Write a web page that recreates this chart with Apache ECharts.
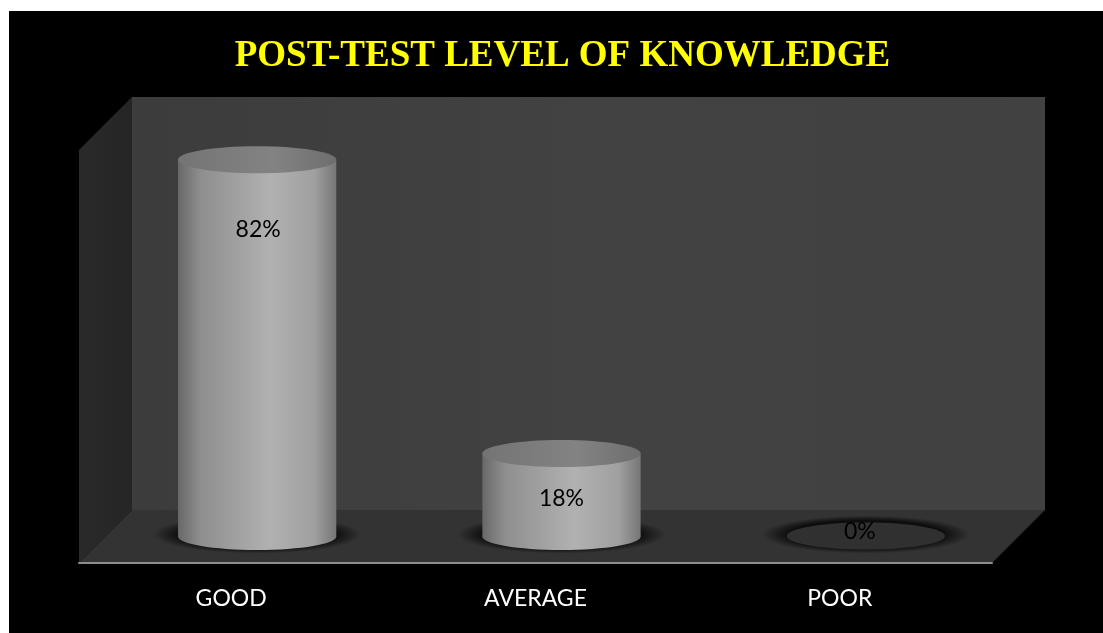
<!DOCTYPE html>
<html lang="en">
<head>
	<meta charset="UTF-8">
	<title>Post-test level of knowledge</title>
	<script src="https://cdn.jsdelivr.net/npm/echarts@6/dist/echarts.min.js"></script>
	<style>
		html, body { margin: 0; padding: 0; background: #fff; overflow: hidden; }
		#main { position: absolute; left: 9px; top: 11px; width: 1094px; height: 622px; }
	</style>
</head>
<body>
	<div id="main"></div>
	<script type="text/javascript">
		var chartTitle = 'POST-TEST LEVEL OF KNOWLEDGE';
		var categories = ['GOOD', 'AVERAGE', 'POOR'];
		var percentValues = [82, 18, 0];

		// fake 3d box: how far the back wall sits from the front plane
		var DEPTH = 53;
		var labelDrop = [70, 45.5, -4.5];
		var labelShift = [1, 0, -6];

		var myChart = echarts.init(document.getElementById('main'));

		function hGrad(stops) {
			return new echarts.graphic.LinearGradient(0, 0, 1, 0, stops);
		}

		function renderFrame(params) {
			var c = params.coordSys;
			var l = c.x, r = c.x + c.width, t = c.y, b = c.y + c.height;
			return {
				type: 'group',
				children: [
					{ type: 'rect', shape: { x: l + DEPTH, y: t - DEPTH, width: c.width, height: c.height },
						style: { fill: hGrad([{ offset: 0, color: '#3c3c3c' }, { offset: 0.5, color: '#424242' }, { offset: 1, color: '#414141' }]) } },
					{ type: 'polygon', shape: { points: [[l, t], [l + DEPTH, t - DEPTH], [l + DEPTH, b - DEPTH], [l, b]] },
						style: { fill: hGrad([{ offset: 0, color: '#2a2a2a' }, { offset: 1, color: '#252525' }]) } },
					{ type: 'polygon', shape: { points: [[l, b], [l + DEPTH, b - DEPTH], [r + DEPTH, b - DEPTH], [r, b]] },
						style: { fill: '#333333' } }
				]
			};
		}

		function renderCylinder(params, api) {
			var i = api.value(0), v = api.value(1);
			var base = api.coord([i, 0]), top = api.coord([i, v]);
			var cx = base[0] + DEPTH / 2 - 0.5;
			var by = base[1] - DEPTH / 2, ty = top[1] - DEPTH / 2 - 0.5;
			var rx = api.size([1, 0])[0] * 0.26, ry = 13.5;
			var haloR = rx + 25;
			var side = hGrad([
				{ offset: 0, color: '#686868' }, { offset: 0.14, color: '#8e8e8e' },
				{ offset: 0.58, color: '#b1b1b1' }, { offset: 0.86, color: '#a0a0a0' }, { offset: 1, color: '#767676' }
			]);
			var children = [{
				type: 'circle',
				shape: { cx: cx, cy: by - 2, r: haloR },
				originX: cx, originY: by - 2, scaleY: 19 / haloR,
				style: { fill: new echarts.graphic.RadialGradient(0.5, 0.5, 0.5, [
					{ offset: 0, color: 'rgba(0,0,0,0.75)' }, { offset: 0.74, color: 'rgba(0,0,0,0.75)' },
					{ offset: 0.86, color: 'rgba(0,0,0,0.4)' }, { offset: 1, color: 'rgba(0,0,0,0)' }
				]) }
			}];
			if (v > 0) {
				children.push(
					{ type: 'ellipse', shape: { cx: cx, cy: by, rx: rx, ry: ry }, style: { fill: side } },
					{ type: 'rect', shape: { x: cx - rx, y: ty, width: rx * 2, height: by - ty }, style: { fill: side } }
				);
			}
			children.push({
				type: 'ellipse',
				shape: { cx: cx, cy: ty, rx: rx, ry: ry },
				style: { fill: v > 0
					? hGrad([{ offset: 0, color: '#747474' }, { offset: 0.6, color: '#838383' }, { offset: 1, color: '#6e6e6e' }])
					: '#303030' }
			}, {
				type: 'text',
				style: {
					text: v + '%', x: cx + labelShift[i], y: ty + labelDrop[i],
					align: 'center', verticalAlign: 'middle',
					font: '23px Lato', fill: '#000'
				}
			});
			return { type: 'group', children: children };
		}

		var option = {
			backgroundColor: '#000',
			animation: false,
			title: {
				text: chartTitle,
				left: 548.5,
				top: 22,
				textAlign: 'center',
				textStyle: { color: '#ffff00', fontFamily: 'Liberation Serif', fontWeight: 'bold', fontSize: 37 }
			},
			grid: { left: 70, right: 111, top: 139, bottom: 70 },
			xAxis: {
				type: 'category',
				data: categories,
				z: 5,
				axisTick: { show: false },
				axisLine: { lineStyle: { color: '#8c8c8c', width: 2 } },
				axisLabel: { color: '#fff', fontFamily: 'Lato', fontSize: 23, margin: 24 }
			},
			yAxis: { type: 'value', min: 0, max: 90, show: false, splitLine: { show: false } },
			series: [
				{ type: 'custom', z: 1, silent: true, renderItem: renderFrame, data: [[0, 0]] },
				{
					type: 'custom', z: 2, silent: true, renderItem: renderCylinder,
					data: percentValues.map(function (v, i) { return [i, v]; })
				}
			]
		};

		myChart.setOption(option, true);
	</script>
</body>
</html>
